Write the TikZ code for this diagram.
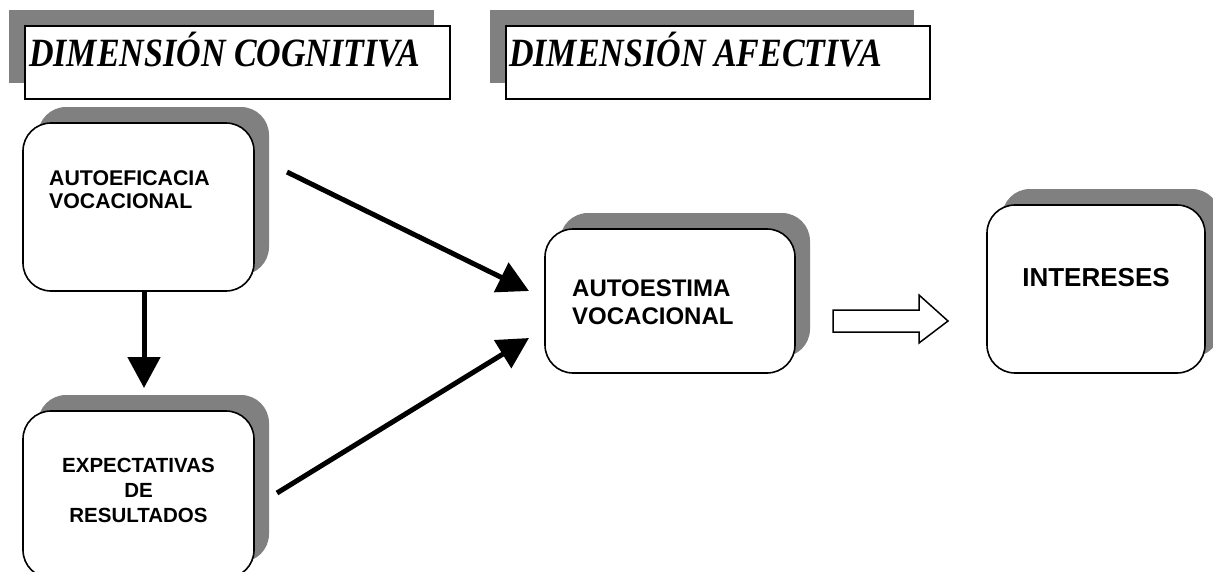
\documentclass[tikz,border=0pt]{standalone}
\usepackage{fontspec}
\setmainfont{Liberation Sans}
\newfontfamily\hdrfont{Liberation Serif}
\usetikzlibrary{shadows,arrows.meta}
\definecolor{shgray}{RGB}{128,128,128}
\tikzset{
  box/.style={draw, line width=1.6pt, rounded corners=28pt, fill=white, inner sep=0pt,
    general shadow={fill=shgray, shadow xshift=15pt, shadow yshift=16pt}},
  hdr/.style={draw, line width=1.7pt, fill=white, inner sep=0pt,
    general shadow={fill=shgray, shadow xshift=-16pt, shadow yshift=16pt}},
  hdrtext/.style={inner sep=0pt, anchor=base west, font=\hdrfont\bfseries\itshape\fontsize{34}{40}\selectfont},
  boxtext/.style={inner sep=0pt, font=\bfseries},
  thick arrow/.style={line width=5pt, -{Triangle[width=32pt,length=31pt]}},
  hollow/.style={draw, line width=1.5pt, fill=white, line join=miter},
}
\begin{document}
\begin{tikzpicture}[x=1pt,y=-1pt]
\useasboundingbox (0,0) rectangle (1213,571);
\clip (0,0) rectangle (1213,571);
% headers
\node[hdr, minimum width=425pt, minimum height=73pt] (h1) at (237.5,62.5) {};
\node[hdr, minimum width=424pt, minimum height=73pt] (h2) at (718,62.5) {};
\node[hdrtext] (h1t) at (29,66) {\scalebox{1}[1.18]{DIMENSIÓN COGNITIVA}};
\node[hdrtext] (h2t) at (509,66) {\scalebox{1}[1.18]{DIMENSIÓN AFECTIVA}};
% boxes
\node[box, minimum width=231pt, minimum height=168pt] (ae) at (138.5,207) {};
\node[box, minimum width=231pt, minimum height=167pt] (ex) at (138.5,494.5) {};
\node[box, minimum width=250pt, minimum height=144pt] (ao) at (670,301) {};
\node[box, minimum width=218pt, minimum height=168pt] (in) at (1096,289) {};
% texts (base anchor = baseline of the last line)
\node[boxtext, anchor=base west, align=left, font=\bfseries\fontsize{21.3}{23}\selectfont] (aet) at (49,208) {AUTOEFICACIA\\VOCACIONAL};
\node[boxtext, anchor=base, align=center, font=\bfseries\fontsize{20.5}{25}\selectfont] (ext) at (138.5,522) {EXPECTATIVAS\\DE\\RESULTADOS};
\node[boxtext, anchor=base west, align=left, font=\bfseries\fontsize{24}{28}\selectfont] (aot) at (572,324) {AUTOESTIMA\\VOCACIONAL};
\node[boxtext, anchor=base, font=\bfseries\fontsize{26}{30}\selectfont] (int) at (1096,286) {INTERESES};
% connector ends
\coordinate (a1s) at (287,172);
\coordinate (a1e) at (529,291);
\coordinate (a2s) at (277,493);
\coordinate (a2e) at (529,338);
\coordinate (a3s) at (144,291);
\coordinate (a3e) at (144,388);
\draw[thick arrow] (a1s) -- (a1e);
\draw[thick arrow] (a2s) -- (a2e);
\draw[thick arrow] (a3s) -- (a3e);
% hollow block arrow
\draw[hollow] (833,310) -- (919,310) -- (919,295) -- (948,321) -- (919,343) -- (919,332) -- (833,332) -- cycle;
\end{tikzpicture}
\end{document}
